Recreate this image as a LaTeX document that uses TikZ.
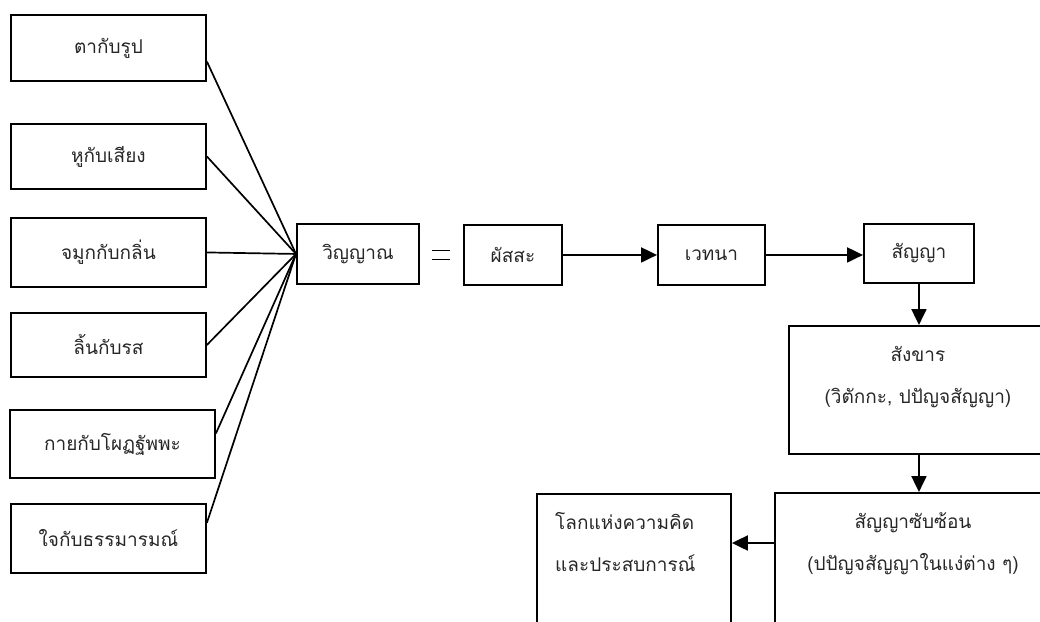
\documentclass[tikz,border=0pt]{standalone}
\usepackage{fontspec}
\newfontfamily\thaifont[Script=Thai]{Loma}
\usetikzlibrary{arrows.meta,calc}
\begin{document}
\begin{tikzpicture}[x=1pt,y=-1pt,
  box/.style={draw, line width=1.9pt, rectangle, inner sep=0pt, anchor=north west},
  txt/.style={font=\thaifont\fontsize{19}{42}\selectfont, text=black!85, inner sep=0pt, align=center},
  link/.style={line width=1.7pt},
  arr/.style={line width=2pt, -{Triangle[length=16pt,width=15pt]}}]
\useasboundingbox (0,0) rectangle (1040,621);
\clip (0,0) rectangle (1040,621);
% left boxes
\node[box, txt, minimum width=195pt, minimum height=66pt] (b1) at (10,14) {ตากับรูป};
\node[box, txt, minimum width=195pt, minimum height=65pt] (b2) at (10,123) {หูกับเสียง};
\node[box, txt, minimum width=195pt, minimum height=69pt] (b3) at (10,217) {จมูกกับกลิ่น};
\node[box, txt, minimum width=195pt, minimum height=64pt] (b4) at (10,312) {ลิ้นกับรส};
\node[box, txt, minimum width=205pt, minimum height=68pt] (b5) at (9,409) {กายกับโผฏฐัพพะ};
\node[box, txt, minimum width=195pt, minimum height=69pt] (b6) at (10,503) {ใจกับธรรมารมณ์};
% main row
\node[box, txt, minimum width=122pt, minimum height=60pt] (v) at (296,223) {วิญญาณ};
\node[box, txt, minimum width=98pt, minimum height=60pt] (p) at (463,224) {ผัสสะ};
\node[box, txt, minimum width=107pt, minimum height=60pt] (w) at (657,224) {เวทนา};
\node[box, txt, minimum width=110pt, minimum height=59pt] (sa) at (863,223) {สัญญา};
% large boxes
\node[box, minimum width=258pt, minimum height=128pt] (sk) at (788,325) {};
\node[txt, anchor=north] (skt) at ($(sk.north)+(0,21)$) {สังขาร\\(วิตักกะ, ปปัญจสัญญา)};
\node[box, minimum width=276pt, minimum height=160pt] (ss) at (774,492) {};
\node[txt, anchor=north] (sst) at ($(ss.north)+(0,20)$) {สัญญาซับซ้อน\\(ปปัญจสัญญาในแง่ต่าง ๆ)};
\node[box, minimum width=194pt, minimum height=160pt] (lk) at (536,493) {};
\node[txt, anchor=north west, align=left] (lkt) at ($(lk.north west)+(19,19)$) {โลกแห่งความคิด\\และประสบการณ์};
% links to consciousness
\coordinate (c1) at ($(b1.north east)!0.70!(b1.south east)$);
\coordinate (c5) at ($(b5.north east)!0.35!(b5.south east)$);
\coordinate (c6) at ($(b6.north east)!0.28!(b6.south east)$);
\draw[link] (c1) -- (v.west);
\draw[link] (b2.east) -- (v.west);
\draw[link] (b3.east) -- (v.west);
\draw[link] (b4.east) -- (v.west);
\draw[link] (c5) -- (v.west);
\draw[link] (c6) -- (v.west);
% equal sign
\coordinate (e) at ($(v.east)!0.5!(p.west)$);
\draw[line width=1.8pt] ($(e)+(-9,-4)$) -- ($(e)+(9,-4)$);
\draw[line width=1.8pt] ($(e)+(-9,5)$) -- ($(e)+(9,5)$);
% arrows
\draw[arr] (p.east) -- (w.west);
\draw[arr] (w.east) -- (w.east -| sa.west);
\draw[arr] (sa.south) -- (sa.south |- sk.north);
\draw[arr] (sa.south |- sk.south) -- (sa.south |- ss.north);
\coordinate (a1) at ($(ss.north west)+(0,51)$);
\draw[arr] (a1) -- (a1 -| lk.east);
\end{tikzpicture}
\end{document}
